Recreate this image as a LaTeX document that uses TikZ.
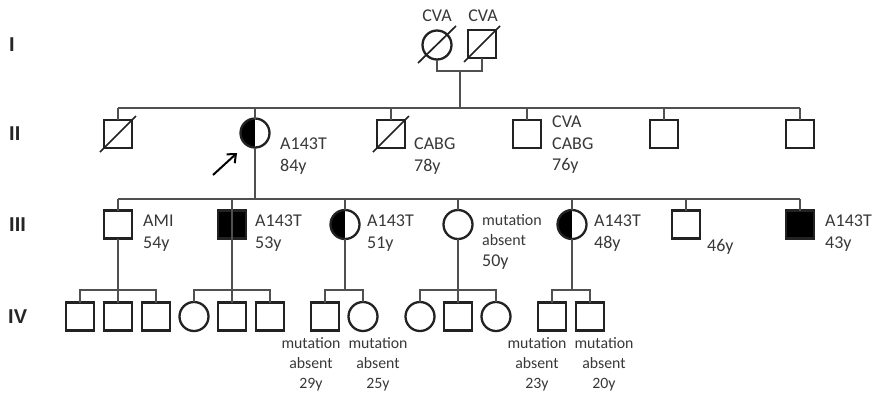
\documentclass[tikz,border=0pt]{standalone}
\usepackage{fontspec}
\setmainfont{Carlito}
\newfontfamily\genfont{Liberation Sans}
\usetikzlibrary{arrows.meta}
\definecolor{txt}{HTML}{383838}
\definecolor{conn}{HTML}{505050}
\definecolor{edge}{HTML}{222222}
\begin{document}
\begin{tikzpicture}[x=1pt,y=-1pt,
  ind/.style={draw=edge, line width=2.3pt, fill=white, inner sep=0pt, outer sep=0pt},
  male/.style={ind, rectangle, minimum size=28pt},
  female/.style={ind, circle, minimum size=29pt},
  aff/.style={fill=black},
  carrier/.style={path picture={\fill[black] (path picture bounding box.south west) rectangle (path picture bounding box.north);}},
  line/.style={draw=conn, line width=1.5pt},
  dead/.style={draw=edge, line width=1.7pt},
  lab/.style={anchor=base west, inner sep=0pt, text=txt, font=\fontsize{18}{21}\selectfont},
  labc/.style={anchor=base, inner sep=0pt, text=txt, font=\fontsize{15.8}{19}\selectfont},
  labs/.style={anchor=base west, inner sep=0pt, text=txt, font=\fontsize{16}{19}\selectfont},
  gen/.style={anchor=base west, inner sep=0pt, text=black!85, font=\genfont\bfseries\fontsize{20}{24}\selectfont},
]
\useasboundingbox (0,0) rectangle (875,392);

% generation labels
\node[gen] (gI) at (9,51) {I};
\node[gen] (gII) at (9,140) {II};
\node[gen] (gIII) at (9,231) {III};
\node[gen] (gIV) at (8,323) {IV};

% ---------- generation I
\node[female] (I1) at (437,45) {};
\node[male] (I2) at (482,44) {};
\draw[dead] ([shift={(-19,18)}]I1.center) -- ([shift={(19,-19)}]I1.center);
\draw[dead] ([shift={(-18,18)}]I2.center) -- ([shift={(18,-18)}]I2.center);
\node[lab, anchor=base] (tI1) at (437,21) {CVA};
\node[lab, anchor=base] (tI2) at (483,21) {CVA};
\coordinate (mI) at (460,71);
\coordinate (sII) at (460,108);
\draw[line] (I1.south) |- (mI) -| (I2.south);
\draw[line] (mI) -- (sII);

% ---------- generation II
\coordinate (sIIL) at (118,108);
\coordinate (sIIR) at (800,108);
\draw[line] (sIIL) -- (sIIR);
\node[male] (II1) at (118,134) {};
\node[female, carrier] (II2) at (255,133) {};
\node[male] (II3) at (391,134) {};
\node[male] (II4) at (527,134) {};
\node[male] (II5) at (664,134) {};
\node[male] (II6) at (800,134) {};
\foreach \n in {II1,II2,II3,II4,II5,II6}{\draw[line] (\n.north) -- (\n.north |- sIIL);}
\draw[dead] ([shift={(-18,18)}]II1.center) -- ([shift={(18,-18)}]II1.center);
\draw[dead] ([shift={(-18,18)}]II3.center) -- ([shift={(18,-18)}]II3.center);
\node[lab] (tII2a) at (280,149) {A143T};
\node[lab] (tII2b) at (280,171) {84y};
\node[lab] (tII3a) at (414,149) {CABG};
\node[lab] (tII3b) at (414,171) {78y};
\node[lab] (tII4a) at (552,127.5) {CVA};
\node[lab] (tII4b) at (552,149) {CABG};
\node[lab] (tII4c) at (552,170.5) {76y};
\coordinate (arS) at (213,175);
\coordinate (arE) at (237,153);
\draw[black, line width=2pt, -{Straight Barb[length=7pt,width=12pt]}] (arS) -- (arE);

% ---------- generation III
\coordinate (sIIIL) at (118,199);
\coordinate (sIIIR) at (800,199);
\draw[line] (II2.south) -- (II2.south |- sIIIL);
\draw[line] (sIIIL) -- (sIIIR);
\node[male] (III1) at (118,224.5) {};
\node[male, aff] (III2) at (232,224.5) {};
\node[female, carrier] (III3) at (345,224.5) {};
\node[female] (III4) at (458,224.5) {};
\node[female, carrier] (III5) at (572,224.5) {};
\node[male] (III6) at (686,224.5) {};
\node[male, aff] (III7) at (800,224.5) {};
\foreach \n in {III1,III2,III3,III4,III5,III6,III7}{\draw[line] (\n.north) -- (\n.north |- sIIIL);}
\draw[line] (III2.north) -- (III2.south);
\node[lab] (tIII1a) at (143,226) {AMI};
\node[lab] (tIII1b) at (143,248) {54y};
\node[lab] (tIII2a) at (255,226) {A143T};
\node[lab] (tIII2b) at (255,248) {53y};
\node[lab] (tIII3a) at (367,226) {A143T};
\node[lab] (tIII3b) at (367,248) {51y};
\node[labs] (tIII4a) at (482,225) {mutation};
\node[labs] (tIII4b) at (482,245) {absent};
\node[lab] (tIII4c) at (482,266) {50y};
\node[lab] (tIII5a) at (594,226) {A143T};
\node[lab] (tIII5b) at (594,248) {48y};
\node[lab] (tIII6a) at (707,251) {46y};
\node[lab] (tIII7a) at (825,226) {A143T};
\node[lab] (tIII7b) at (825,248) {43y};

% ---------- generation IV
\def\yIV{316.5}
\node[male] (IV1) at (80,\yIV) {};
\node[male] (IV2) at (118,\yIV) {};
\node[male] (IV3) at (156,\yIV) {};
\node[female] (IV4) at (194,\yIV) {};
\node[male] (IV5) at (232,\yIV) {};
\node[male] (IV6) at (270,\yIV) {};
\node[male] (IV7) at (325,\yIV) {};
\node[female] (IV8) at (363,\yIV) {};
\node[female] (IV9) at (420,\yIV) {};
\node[male] (IV10) at (458,\yIV) {};
\node[female] (IV11) at (496,\yIV) {};
\node[male] (IV12) at (552,\yIV) {};
\node[male] (IV13) at (590,\yIV) {};

\coordinate (f1) at (118,290);
\coordinate (f2) at (232,290);
\coordinate (f3) at (345,290);
\coordinate (f4) at (458,290);
\coordinate (f5) at (572,290);
\draw[line] (III1.south) -- (f1);
\draw[line] (III2.south) -- (f2);
\draw[line] (III3.south) -- (f3);
\draw[line] (III4.south) -- (f4);
\draw[line] (III5.south) -- (f5);
\draw[line] (IV1.north) |- (f1) -| (IV3.north);
\draw[line] (IV2.north) -- (f1);
\draw[line] (IV4.north) |- (f2) -| (IV6.north);
\draw[line] (IV5.north) -- (f2);
\draw[line] (IV7.north) |- (f3) -| (IV8.north);
\draw[line] (IV9.north) |- (f4) -| (IV11.north);
\draw[line] (IV10.north) -- (f4);
\draw[line] (IV12.north) |- (f5) -| (IV13.north);

\node[labc] (tIV7a) at (311,348) {mutation};
\node[labc] (tIV7b) at (311,368) {absent};
\node[labc] (tIV7c) at (311,388) {29y};
\node[labc] (tIV8a) at (378,348) {mutation};
\node[labc] (tIV8b) at (378,368) {absent};
\node[labc] (tIV8c) at (378,388) {25y};
\node[labc] (tIV12a) at (537,348) {mutation};
\node[labc] (tIV12b) at (537,368) {absent};
\node[labc] (tIV12c) at (537,388) {23y};
\node[labc] (tIV13a) at (604,348) {mutation};
\node[labc] (tIV13b) at (604,368) {absent};
\node[labc] (tIV13c) at (604,388) {20y};
\end{tikzpicture}
\end{document}
